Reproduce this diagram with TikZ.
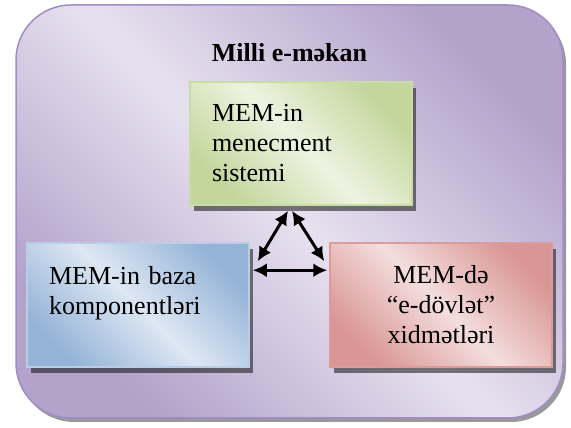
\documentclass[tikz,border=0pt]{standalone}
\usepackage{fontspec}
\setmainfont{Liberation Serif}
\usepackage{tikz}
\usetikzlibrary{arrows.meta,shadows}
\definecolor{lilacD}{HTML}{B3A2CA}
\definecolor{lilacL}{HTML}{E7E1EF}
\definecolor{lilacB}{HTML}{9F8DC4}
\definecolor{greenD}{HTML}{C3D69B}
\definecolor{greenL}{HTML}{EDF3E1}
\definecolor{greenB}{HTML}{C9DBA6}
\definecolor{blueD}{HTML}{95B3D7}
\definecolor{blueL}{HTML}{DDE7F3}
\definecolor{blueB}{HTML}{B9CDE5}
\definecolor{redD}{HTML}{D99694}
\definecolor{redL}{HTML}{F3DEDD}
\definecolor{redB}{HTML}{DA9C9B}
\tikzset{x=1pt,y=1pt,
  txt/.style={font=\fontsize{26}{30}\selectfont},
  box/.style={txt,rectangle,minimum width=222pt,minimum height=123pt,text width=178pt,
    inner xsep=22pt,line width=1.5pt,
    drop shadow={shadow xshift=4pt,shadow yshift=-6pt,fill=black,opacity=.5}},
  shade2/.style args={#1 and #2}{top color=#1,bottom color=#1,middle color=#2,shading angle=-45},
  arr/.style={line width=3pt,{Latex[length=14pt,width=14pt]}-{Latex[length=14pt,width=14pt]}}
}
\begin{document}
\begin{tikzpicture}
\useasboundingbox (0,0) rectangle (571,428);
% outer frame
\node[draw=lilacB,line width=1.5pt,rounded corners=55pt,minimum width=547pt,minimum height=413pt,
  shade2=lilacD and lilacL,
  drop shadow={shadow xshift=3pt,shadow yshift=-4pt,fill=black,opacity=.4}] (space) at (289.5,216.5) {};
\node[txt,font=\fontsize{26}{30}\selectfont\bfseries,anchor=base] (title) at (289.5,366) {Milli e-məkan};
% the three boxes
\node[box,draw=greenB,shade2=greenD and greenL,align=left] (mgmt) at (301,284.5) {MEM-in\\menecment\\sistemi};
\node[box,draw=blueB,shade2=blueD and blueL,align=left,minimum height=124pt] (base) at (138,123) {MEM-in baza\\komponentləri\\~};
\node[box,draw=redB,shade2=redD and redL,align=center,minimum height=124pt] (serv) at (441,123) {MEM-də\\“e-dövlət”\\xidmətləri};
% arrows
\coordinate (m1) at ([xshift=-13pt,yshift=-5pt]mgmt.south);
\coordinate (m2) at ([xshift=-9pt,yshift=-5pt]mgmt.south);
\coordinate (b1) at ([xshift=8pt,yshift=-19pt]base.north east);
\coordinate (b2) at ([xshift=3pt,yshift=-28pt]base.north east);
\coordinate (s1) at ([xshift=-5pt,yshift=-19pt]serv.north west);
\coordinate (s2) at ([xshift=-2pt,yshift=-28pt]serv.north west);
\draw[arr] (m1)--(b1);
\draw[arr] (m2)--(s1);
\draw[arr] (b2)--(s2);
\end{tikzpicture}
\end{document}
